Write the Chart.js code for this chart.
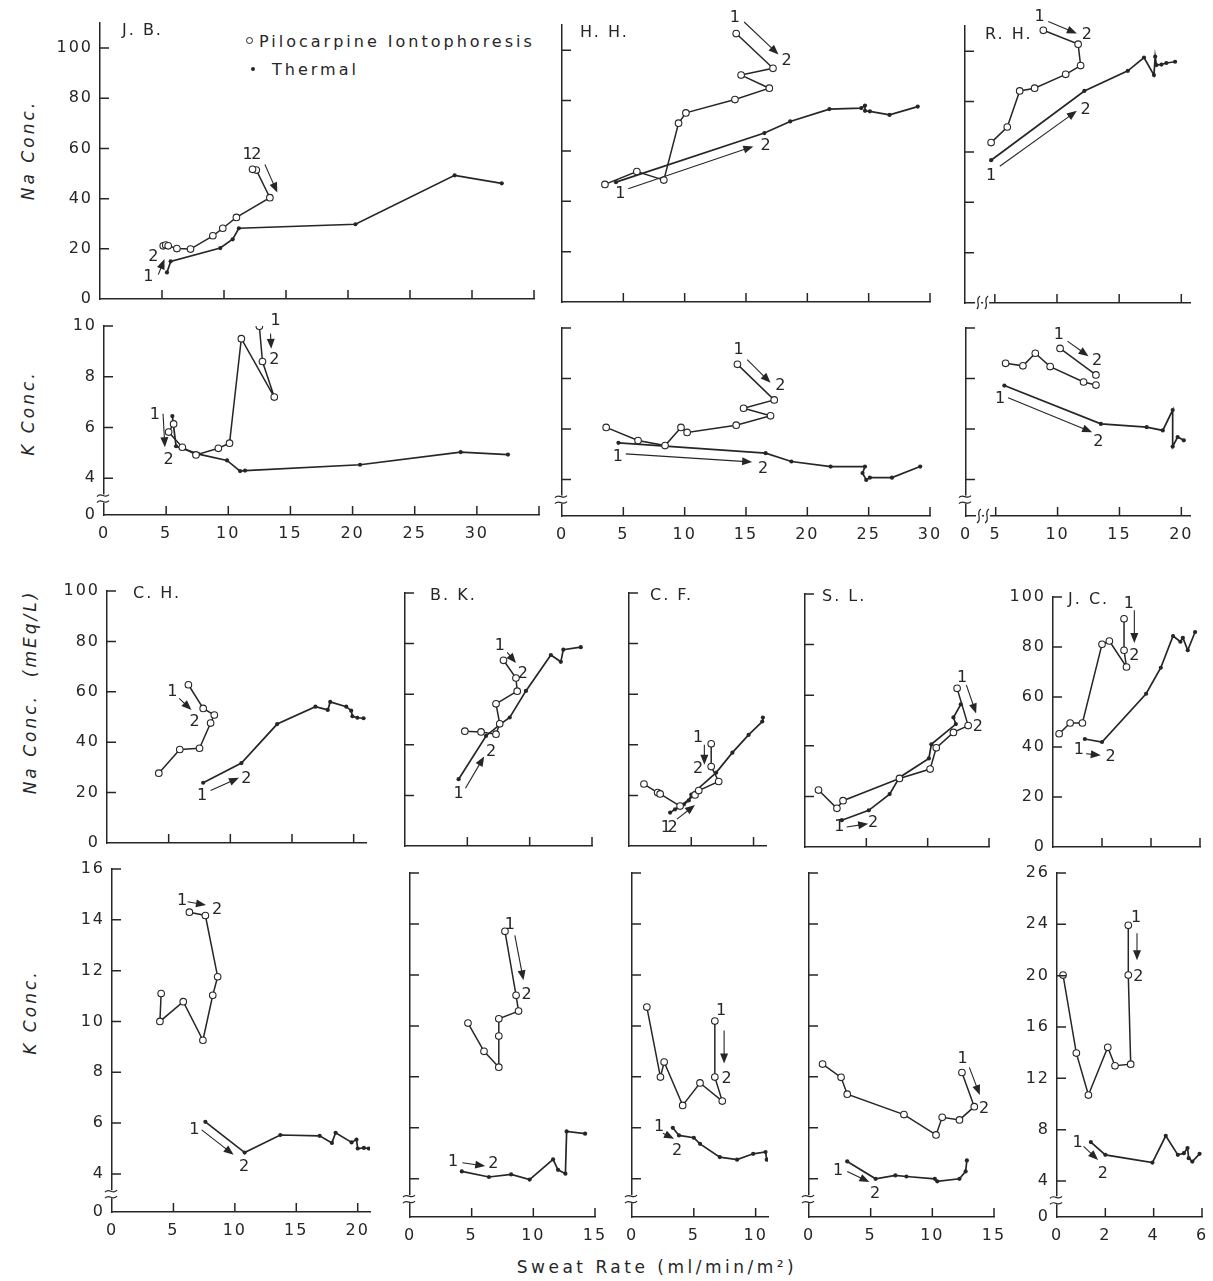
<!DOCTYPE html>
<html>
<head>
<meta charset="utf-8">
<script src="https://cdn.jsdelivr.net/npm/chart.js@4.4.1/dist/chart.umd.min.js"></script>
<style>
  html, body { margin: 0; padding: 0; background: #fff; }
  body { width: 1213px; height: 1281px; position: relative; overflow: hidden;
         font-family: "DejaVu Sans", sans-serif; color: #262626; }
  .panel { position: absolute; }
  .panel canvas { display: block; }
  .ytitle { position: absolute; white-space: nowrap; font-style: italic; font-size: 17px;
            letter-spacing: 3px; transform: translate(-50%, -50%) rotate(-90deg); }
  .legend { position: absolute; font-size: 16px; letter-spacing: 3px; white-space: nowrap; }
  .legend .open { display: inline-block; width: 5px; height: 5px; border: 1.2px solid #262626;
                  border-radius: 50%; margin-right: 6px; vertical-align: 3px; }
  .legend .dot { display: inline-block; width: 4px; height: 4px; background: #262626;
                 border-radius: 50%; margin: 0 17px 0 3px; vertical-align: 4px; }
  .xtitle { position: absolute; font-size: 17px; letter-spacing: 3.5px; white-space: nowrap;
            transform: translate(-50%, -50%); }
</style>
</head>
<body>

<div class="legend" style="left:246px; top:32px;"><span class="open"></span>Pilocarpine Iontophoresis</div>
<div class="legend" style="left:248px; top:60px;"><span class="dot"></span>Thermal</div>

<div class="ytitle" style="left:28px; top:150px;">Na Conc.</div>
<div class="ytitle" style="left:28px; top:413px;">K Conc.</div>
<div class="ytitle" style="left:30px; top:692px;">Na Conc.&nbsp; (mEq/L)</div>
<div class="ytitle" style="left:30px; top:1012px;">K Conc.</div>
<div class="xtitle" style="left:657px; top:1267px;">Sweat Rate (ml/min/m²)</div>

<script>
const INK = '#262626';
const FONT = '"DejaVu Sans", sans-serif';

// ---- axis ticks ----
const topNaYTicks = [0, 20, 40, 60, 80, 100];
const topNaYText = ['0', '20', '40', '60', '80', '100'];
const topKYTicks = [2.55, 4, 6, 8, 10];
const topKYText = ['0', '4', '6', '8', '10'];
const lowNaYTicks = [0, 20, 40, 60, 80, 100];
const lowNaYText = ['0', '20', '40', '60', '80', '100'];
const lowKYTicks = [2.5, 4, 6, 8, 10, 12, 14, 16];
const lowKYText = ['0', '4', '6', '8', '10', '12', '14', '16'];
const jcKYTicks = [1.2, 4, 8, 12, 16, 20, 24, 28];
const jcKYText = ['0', '4', '8', '12', '16', '20', '24', '26'];

const jbXTicks = [0, 5, 10, 15, 20, 25, 30, 35];
const jbXText = ['0', '5', '10', '15', '20', '25', '30', ''];
const hhXTicks = [0, 5, 10, 15, 20, 25, 30];
const hhXText = ['0', '5', '10', '15', '20', '25', '30'];
const rhXTicks = [2.6, 5, 10, 15, 20];
const rhXText = ['0', '5', '10', '15', '20'];
const chXTicks = [0, 5, 10, 15, 20];
const chXText = ['0', '5', '10', '15', '20'];
const bkXTicks = [0, 5, 10, 15];
const bkXText = ['0', '5', '10', '15'];
const cfXTicks = [0, 5, 10];
const cfXText = ['0', '5', '10'];
const slXTicks = [0, 5, 10, 15];
const slXText = ['0', '5', '10', '15'];
const jcXTicks = [0, 2, 4, 6];
const jcXText = ['0', '2', '4', '6'];

// ---- series: [sweat rate, concentration] ----
const jbNaPilo = [[5.1, 21.2], [5.3, 21.5], [5.5, 21.2], [6.2, 20.1], [7.3, 19.9], [9.1, 25.2], [9.9, 28.2], [11.0, 32.5], [13.7, 40.4], [12.6, 51.4], [12.3, 51.7]];
const jbNaTherm = [[5.4, 10.6], [5.7, 15.0], [9.7, 20.3], [10.7, 23.8], [11.2, 28.2], [20.6, 29.8], [28.6, 49.3], [32.4, 46.1]];
const jbKPilo = [[5.6, 6.14], [5.2, 5.82], [6.3, 5.22], [7.4, 4.92], [9.2, 5.18], [10.1, 5.38], [11.05, 9.5], [13.7, 7.2], [12.75, 8.6], [12.5, 9.99]];
const jbKTherm = [[5.5, 6.45], [5.8, 5.26], [7.6, 4.95], [9.9, 4.7], [10.95, 4.28], [11.35, 4.3], [20.6, 4.53], [28.7, 5.03], [32.5, 4.93]];

const hhNaPilo = [[3.5, 46.7], [6.1, 51.8], [8.3, 48.4], [9.5, 71.0], [10.1, 75.1], [14.1, 80.4], [16.9, 84.9], [14.6, 90.1], [17.2, 92.8], [14.2, 106.6]];
const hhNaTherm = [[4.4, 47.6], [16.5, 67.1], [18.6, 71.7], [21.8, 76.6], [24.4, 77.0], [24.7, 78.0], [24.7, 75.9], [25.1, 75.7], [26.7, 74.3], [29.0, 77.6]];
const hhKPilo = [[3.6, 6.06], [6.2, 5.54], [8.4, 5.34], [9.7, 6.06], [10.2, 5.86], [14.2, 6.15], [17.0, 6.52], [14.8, 6.82], [17.3, 7.15], [14.3, 8.56]];
const hhKTherm = [[4.6, 5.45], [16.6, 5.04], [18.7, 4.71], [21.9, 4.51], [24.7, 4.51], [24.5, 4.25], [24.8, 3.98], [25.1, 4.07], [26.9, 4.07], [29.2, 4.51]];

const rhNaPilo = [[4.7, 63.7], [6.0, 69.9], [7.0, 84.2], [8.2, 85.3], [10.7, 90.8], [11.9, 94.3], [11.7, 102.8], [8.9, 108.3]];
const rhNaTherm = [[4.7, 56.7], [12.2, 84.2], [15.7, 92.2], [17.0, 97.5], [17.8, 90.5], [17.9, 97.8], [18.0, 94.5], [18.4, 94.7], [18.8, 95.3], [19.5, 95.8]];
const rhKPiloA = [[5.8, 8.6], [7.2, 8.5], [8.2, 9.0], [9.4, 8.47], [12.1, 7.86], [13.1, 7.74]];
const rhKPiloB = [[10.2, 9.19], [13.1, 8.14]];
const rhKTherm = [[5.7, 7.72], [13.5, 6.2], [17.2, 6.07], [18.5, 5.94], [19.3, 6.75], [19.3, 5.3], [19.7, 5.68], [20.2, 5.55]];

const chNaPilo = [[4.2, 27.7], [5.9, 37.1], [7.5, 37.6], [8.4, 47.6], [8.7, 50.8], [7.8, 53.4], [6.6, 62.8]];
const chNaTherm = [[7.8, 23.9], [10.9, 31.7], [13.8, 47.2], [16.9, 54.1], [17.9, 52.8], [18.1, 56.0], [19.4, 54.1], [19.8, 52.5], [19.9, 50.3], [20.3, 49.7], [20.8, 49.5]];
const chKPilo = [[4.0, 11.1], [3.9, 10.0], [5.8, 10.78], [7.4, 9.26], [8.2, 11.03], [8.6, 11.76], [7.6, 14.17], [6.3, 14.3]];
const chKTherm = [[7.6, 6.05], [10.8, 4.84], [13.7, 5.53], [16.9, 5.5], [17.9, 5.22], [18.2, 5.62], [19.5, 5.24], [19.9, 5.35], [20.0, 5.0], [20.5, 5.02], [20.9, 5.0]];

const bkNaPilo = [[4.8, 45.4], [6.1, 45.1], [7.3, 44.2], [7.6, 48.3], [7.3, 56.2], [9.0, 61.2], [8.9, 66.4], [7.9, 73.4]];
const bkNaTherm = [[4.3, 26.4], [6.5, 43.5], [7.6, 48.0], [8.4, 50.8], [9.7, 61.3], [11.7, 75.5], [12.5, 72.8], [12.7, 77.6], [14.1, 78.6]];
const bkKPilo = [[4.7, 10.11], [6.0, 9.0], [7.2, 8.38], [7.2, 9.6], [7.2, 10.28], [8.8, 10.58], [8.6, 11.2], [7.7, 13.71]];
const bkKTherm = [[4.2, 4.29], [6.4, 4.07], [8.2, 4.17], [9.7, 3.97], [11.6, 4.76], [12.0, 4.35], [12.6, 4.2], [12.7, 5.86], [14.2, 5.77]];

const cfNaPilo = [[1.2, 24.5], [2.3, 21.1], [2.5, 20.6], [4.1, 15.8], [5.3, 20.2], [5.6, 21.9], [7.2, 25.5], [6.6, 31.4], [6.6, 40.4]];
const cfNaTherm = [[3.3, 13.2], [3.7, 14.5], [4.4, 16.4], [4.8, 18.0], [5.0, 20.3], [7.0, 29.0], [8.3, 36.9], [9.6, 43.9], [10.7, 49.2], [10.75, 50.8]];
const cfKPilo = [[1.2, 10.74], [2.3, 7.99], [2.6, 8.58], [4.1, 6.88], [5.5, 7.76], [7.3, 7.05], [6.7, 7.99], [6.7, 10.19]];
const cfKTherm = [[3.3, 6.0], [3.8, 5.7], [5.0, 5.61], [5.5, 5.37], [7.1, 4.85], [8.5, 4.75], [9.8, 4.98], [10.8, 5.05], [10.9, 4.75]];

const slNaPilo = [[1.1, 22.5], [2.6, 15.3], [3.1, 18.3], [7.7, 27.1], [10.2, 30.8], [10.7, 39.2], [12.1, 45.3], [13.3, 48.0], [12.4, 62.7]];
const slNaTherm = [[3.0, 10.6], [5.2, 14.5], [6.9, 20.9], [7.7, 27.5], [10.1, 35.0], [10.3, 40.6], [12.3, 48.6], [12.1, 51.2], [12.7, 56.4]];
const slKPilo = [[1.1, 8.5], [2.6, 7.98], [3.1, 7.32], [7.7, 6.52], [10.3, 5.72], [10.8, 6.41], [12.2, 6.31], [13.4, 6.83], [12.4, 8.17]];
const slKTherm = [[3.1, 4.68], [5.4, 4.0], [7.0, 4.13], [7.9, 4.09], [10.2, 4.0], [10.4, 3.9], [12.2, 4.0], [12.7, 4.29], [12.8, 4.72]];

const jcNaPilo = [[0.25, 45.3], [0.7, 49.6], [1.2, 49.6], [2.0, 81.1], [2.3, 82.4], [3.0, 72.0], [2.9, 78.7], [2.9, 91.3]];
const jcNaTherm = [[1.3, 43.2], [2.0, 42.0], [3.8, 61.3], [4.4, 71.7], [4.9, 84.4], [5.2, 82.1], [5.3, 83.7], [5.5, 78.7], [5.8, 86.0]];
const jcKPilo = [[0.25, 20.05], [0.8, 13.97], [1.3, 10.7], [2.1, 14.42], [2.4, 12.98], [3.05, 13.11], [2.95, 20.05], [2.95, 23.92]];
const jcKTherm = [[1.4, 7.04], [2.0, 6.04], [3.95, 5.44], [4.5, 7.53], [5.0, 6.04], [5.25, 6.17], [5.4, 6.57], [5.45, 5.78], [5.6, 5.52], [5.9, 6.12]];

// ---- "1 -> 2" sequence markers: [x, y, text] and arrows [x1, y1, x2, y2] ----
const jbNaNotes = [[3.9, 8.9, '1'], [4.3, 16.8, '2'], [11.9, 57.4, '1'], [12.6, 57.4, '2']];
const jbNaArrows = [[4.7, 9.7, 5.2, 15.9], [13.3, 53.6, 14.3, 42.4]];
const jbKNotes = [[4.1, 6.5, '1'], [5.2, 4.72, '2'], [13.8, 10.2, '1'], [13.7, 8.67, '2']];
const jbKArrows = [[4.75, 6.54, 4.9, 5.22], [13.4, 9.7, 13.45, 9.1]];
const hhNaNotes = [[4.75, 42.8, '1'], [16.6, 62.2, '2'], [14.1, 113, '1'], [18.3, 95.7, '2']];
const hhNaArrows = [[5.4, 45.0, 15.6, 61.8], [14.85, 111.2, 17.65, 98.3]];
const hhKNotes = [[4.55, 4.88, '1'], [16.4, 4.42, '2'], [14.4, 9.15, '1'], [17.8, 7.7, '2']];
const hhKArrows = [[5.2, 5.01, 15.5, 4.69], [15.1, 8.75, 17.0, 7.83]];
const rhNaNotes = [[8.6, 113.6, '1'], [12.4, 106.3, '2'], [4.7, 50.4, '1'], [12.3, 76.7, '2']];
const rhNaArrows = [[9.3, 111.8, 11.6, 107.0], [5.4, 54.3, 11.6, 76.3]];
const rhKNotes = [[10.1, 9.71, '1'], [13.2, 8.69, '2'], [5.35, 7.18, '1'], [13.3, 5.47, '2']];
const rhKArrows = [[10.8, 9.48, 12.5, 8.88], [6.0, 7.24, 12.8, 5.87]];
const chNaNotes = [[5.3, 59.8, '1'], [7.1, 48.2, '2'], [7.7, 18.9, '1'], [11.3, 25.5, '2']];
const chNaArrows = [[5.85, 57.4, 6.85, 52.8], [8.4, 20.8, 10.7, 25.9]];
const chKNotes = [[5.7, 14.75, '1'], [8.55, 14.41, '2'], [6.7, 5.73, '1'], [10.75, 4.29, '2']];
const chKArrows = [[6.15, 14.71, 7.65, 14.58], [7.3, 5.73, 9.9, 4.75]];
const bkNaNotes = [[7.6, 79.2, '1'], [9.45, 68.1, '2'], [4.3, 20.6, '1'], [6.9, 37.3, '2']];
const bkNaArrows = [[8.2, 76.5, 8.9, 72.3], [4.85, 22.8, 6.35, 35.4]];
const bkKNotes = [[8.1, 13.95, '1'], [9.45, 11.2, '2'], [3.5, 4.65, '1'], [6.75, 4.59, '2']];
const bkKArrows = [[8.5, 13.55, 9.2, 11.79], [4.25, 4.63, 6.1, 4.5]];
const cfNaNotes = [[2.95, 7.0, '1'], [3.5, 7.0, '2'], [5.55, 42.6, '1'], [5.55, 30.3, '2']];
const cfNaArrows = [[3.85, 10.6, 5.3, 16.2], [6.05, 40.0, 6.05, 32.1]];
const cfKNotes = [[2.2, 6.03, '1'], [3.65, 5.11, '2'], [7.2, 10.6, '1'], [7.65, 7.93, '2']];
const cfKArrows = [[2.5, 5.79, 3.4, 5.57], [7.45, 9.82, 7.45, 8.52]];
const slNaNotes = [[12.8, 66.7, '1'], [14.1, 47.6, '2'], [2.8, 7.9, '1'], [5.55, 9.5, '2']];
const slNaArrows = [[13.15, 64.1, 13.95, 52.8], [3.4, 7.9, 5.15, 9.2]];
const slKNotes = [[12.45, 8.69, '1'], [14.2, 6.76, '2'], [2.35, 4.33, '1'], [5.35, 3.41, '2']];
const slKArrows = [[13.0, 8.37, 13.85, 7.29], [3.1, 4.29, 4.9, 3.87]];
const jcNaNotes = [[1.05, 38.7, '1'], [2.35, 36.0, '2'], [3.1, 97.3, '1'], [3.32, 76.3, '2']];
const jcNaArrows = [[1.35, 37.3, 1.95, 36.7], [3.32, 94.7, 3.32, 81.6]];
const jcKNotes = [[0.85, 6.96, '1'], [1.9, 4.6, '2'], [3.27, 24.5, '1'], [3.37, 19.9, '2']];
const jcKArrows = [[1.1, 6.7, 1.7, 5.65], [3.31, 23.3, 3.31, 21.2]];

// plot boxes are [left, top, right, bottom] of the axis frame in page pixels
const panels = [
  { name: 'J. B.', nameAt: [22, 8], box: [100, 23, 534, 299], xr: [0, 35], yr: [0, 110],
    xTicks: jbXTicks, xText: null, yTicks: topNaYTicks, yText: topNaYText,
    pilo: [jbNaPilo], therm: [jbNaTherm], notes: jbNaNotes, arrows: jbNaArrows, padT: 22 },
  { name: 'H. H.', nameAt: [18, 8], box: [562, 25, 930, 302], xr: [0, 30], yr: [0, 110],
    xTicks: hhXTicks, xText: null, yTicks: topNaYTicks, yText: null,
    pilo: [hhNaPilo], therm: [hhNaTherm], notes: hhNaNotes, arrows: hhNaArrows, padT: 22 },
  { name: 'R. H.', nameAt: [20, 9], box: [965, 26, 1190, 303], xr: [2.6, 20.7], yr: [0, 110],
    xTicks: rhXTicks, xText: null, yTicks: topNaYTicks, yText: null, xBreaks: [3.65, 4.3],
    pilo: [rhNaPilo], therm: [rhNaTherm], notes: rhNaNotes, arrows: rhNaArrows, padT: 24 },

  { box: [104, 326, 539, 515], xr: [0, 35], yr: [2.55, 10],
    xTicks: jbXTicks, xText: jbXText, yTicks: topKYTicks, yText: topKYText, yBreak: 3.2,
    pilo: [jbKPilo], therm: [jbKTherm], notes: jbKNotes, arrows: jbKArrows },
  { box: [562, 328, 930, 516], xr: [0, 30], yr: [2.55, 10],
    xTicks: hhXTicks, xText: hhXText, yTicks: topKYTicks, yText: null, yBreak: 3.2,
    pilo: [hhKPilo], therm: [hhKTherm], notes: hhKNotes, arrows: hhKArrows },
  { box: [966, 328, 1190, 516], xr: [2.6, 20.7], yr: [2.55, 10],
    xTicks: rhXTicks, xText: rhXText, yTicks: topKYTicks, yText: null, yBreak: 3.2, xBreaks: [3.65, 4.3],
    pilo: [rhKPiloA, rhKPiloB], therm: [rhKTherm], notes: rhKNotes, arrows: rhKArrows },

  { name: 'C. H.', nameAt: [26, 3], box: [107, 591, 366, 843], xr: [0, 21], yr: [0, 100],
    xTicks: chXTicks, xText: null, yTicks: lowNaYTicks, yText: lowNaYText,
    pilo: [chNaPilo], therm: [chNaTherm], notes: chNaNotes, arrows: chNaArrows },
  { name: 'B. K.', nameAt: [25, 3], box: [405, 593, 592, 846], xr: [0, 15], yr: [0, 100],
    xTicks: bkXTicks, xText: null, yTicks: lowNaYTicks, yText: null,
    pilo: [bkNaPilo], therm: [bkNaTherm], notes: bkNaNotes, arrows: bkNaArrows },
  { name: 'C. F.', nameAt: [21, 3], box: [629, 593, 766, 846], xr: [0, 11], yr: [0, 100],
    xTicks: cfXTicks, xText: null, yTicks: lowNaYTicks, yText: null,
    pilo: [cfNaPilo], therm: [cfNaTherm], notes: cfNaNotes, arrows: cfNaArrows },
  { name: 'S. L.', nameAt: [17, 3], box: [805, 594, 989, 847], xr: [0, 15], yr: [0, 100],
    xTicks: slXTicks, xText: null, yTicks: lowNaYTicks, yText: null,
    pilo: [slNaPilo], therm: [slNaTherm], notes: slNaNotes, arrows: slNaArrows },
  { name: 'J. C.', nameAt: [15, 3], box: [1053, 597, 1200, 847], xr: [0, 6], yr: [0, 100],
    xTicks: jcXTicks, xText: null, yTicks: lowNaYTicks, yText: lowNaYText,
    pilo: [jcNaPilo], therm: [jcNaTherm], notes: jcNaNotes, arrows: jcNaArrows },

  { box: [112, 869, 370, 1212], xr: [0, 21], yr: [2.5, 16],
    xTicks: chXTicks, xText: chXText, yTicks: lowKYTicks, yText: lowKYText, yBreak: 3.2,
    pilo: [chKPilo], therm: [chKTherm], notes: chKNotes, arrows: chKArrows },
  { box: [410, 873, 595, 1217], xr: [0, 15], yr: [2.5, 16],
    xTicks: bkXTicks, xText: bkXText, yTicks: lowKYTicks, yText: null, yBreak: 3.2,
    pilo: [bkKPilo], therm: [bkKTherm], notes: bkKNotes, arrows: bkKArrows },
  { box: [632, 873, 768, 1217], xr: [0, 11], yr: [2.5, 16],
    xTicks: cfXTicks, xText: cfXText, yTicks: lowKYTicks, yText: null, yBreak: 3.2,
    pilo: [cfKPilo], therm: [cfKTherm], notes: cfKNotes, arrows: cfKArrows },
  { box: [809, 873, 994, 1217], xr: [0, 15], yr: [2.5, 16],
    xTicks: slXTicks, xText: slXText, yTicks: lowKYTicks, yText: null, yBreak: 3.2,
    pilo: [slKPilo], therm: [slKTherm], notes: slKNotes, arrows: slKArrows },
  { box: [1057, 873, 1202, 1217], xr: [0, 6], yr: [1.2, 28],
    xTicks: jcXTicks, xText: jcXText, yTicks: jcKYTicks, yText: jcKYText, yBreak: 2.5,
    pilo: [jcKPilo], therm: [jcKTherm], notes: jcKNotes, arrows: jcKArrows }
];

function lineSet(points, open) {
  return {
    data: points.map(p => ({ x: p[0], y: p[1] })),
    showLine: true,
    borderColor: INK,
    borderWidth: open ? 1.5 : 1.7,
    pointRadius: open ? 3.3 : 2.1,
    pointHoverRadius: 0,
    pointBackgroundColor: open ? '#fff' : INK,
    pointBorderColor: INK,
    pointBorderWidth: open ? 1.1 : 0,
    tension: 0
  };
}

function drawArrow(ctx, x1, y1, x2, y2) {
  const ang = Math.atan2(y2 - y1, x2 - x1);
  ctx.beginPath();
  ctx.moveTo(x1, y1);
  ctx.lineTo(x2 - 6 * Math.cos(ang), y2 - 6 * Math.sin(ang));
  ctx.stroke();
  ctx.beginPath();
  ctx.moveTo(x2, y2);
  ctx.lineTo(x2 - 10 * Math.cos(ang) + 4 * Math.sin(ang), y2 - 10 * Math.sin(ang) - 4 * Math.cos(ang));
  ctx.lineTo(x2 - 10 * Math.cos(ang) - 4 * Math.sin(ang), y2 - 10 * Math.sin(ang) + 4 * Math.cos(ang));
  ctx.closePath();
  ctx.fill();
}

function makePanel(cfg) {
  const padL = 56, padR = 22, padT = cfg.padT || 14, padB = cfg.xText ? 34 : 6;
  const [l, t, r, b] = cfg.box;
  const w = r - l + padL + padR, h = b - t + padT + padB;

  const holder = document.createElement('div');
  holder.className = 'panel';
  holder.style.left = (l - padL) + 'px';
  holder.style.top = (t - padT) + 'px';
  const canvas = document.createElement('canvas');
  canvas.width = w;
  canvas.height = h;
  holder.appendChild(canvas);
  document.body.appendChild(holder);

  const datasets = [];
  cfg.pilo.forEach(s => datasets.push(lineSet(s, true)));
  cfg.therm.forEach(s => datasets.push(lineSet(s, false)));

  // inward tick marks, axis breaks, panel name and the 1 -> 2 arrows
  const marks = {
    id: 'marks',
    beforeDraw(chart) { chart.ctx.letterSpacing = '2px'; },
    afterDraw(chart) {
      const { ctx, chartArea: a, scales: { x, y } } = chart;
      ctx.save();
      ctx.letterSpacing = '0px';
      ctx.strokeStyle = INK;
      ctx.fillStyle = INK;
      ctx.lineWidth = 1.5;
      ctx.beginPath();
      cfg.xTicks.forEach(v => {
        if (v === cfg.xr[0]) return;
        const px = x.getPixelForValue(v);
        ctx.moveTo(px, a.bottom);
        ctx.lineTo(px, a.bottom - 9);
      });
      cfg.yTicks.forEach(v => {
        if (v === cfg.yr[0]) return;
        const py = y.getPixelForValue(v);
        ctx.moveTo(a.left, py);
        ctx.lineTo(a.left + 9, py);
      });
      ctx.stroke();

      ctx.lineWidth = 1.2;
      if (cfg.yBreak) {
        const py = y.getPixelForValue(cfg.yBreak);
        ctx.fillStyle = '#fff';
        ctx.fillRect(a.left - 2, py - 4, 4, 8);
        ctx.fillStyle = INK;
        [-3, 3].forEach(d => {
          ctx.beginPath();
          ctx.moveTo(a.left - 7, py + d + 1);
          ctx.bezierCurveTo(a.left - 3, py + d - 4, a.left + 1, py + d + 4, a.left + 5, py + d - 1);
          ctx.stroke();
        });
      }
      (cfg.xBreaks || []).forEach(v => {
        const px = x.getPixelForValue(v);
        ctx.fillStyle = '#fff';
        ctx.fillRect(px - 3, a.bottom - 2, 6, 4);
        ctx.fillStyle = INK;
        ctx.beginPath();
        ctx.moveTo(px - 2, a.bottom + 7);
        ctx.bezierCurveTo(px + 4, a.bottom + 3, px - 4, a.bottom - 3, px + 2, a.bottom - 7);
        ctx.stroke();
      });

      if (cfg.name) {
        ctx.letterSpacing = '2px';
        ctx.font = '16px ' + FONT;
        ctx.textAlign = 'left';
        ctx.textBaseline = 'middle';
        ctx.fillText(cfg.name, a.left + cfg.nameAt[0], a.top + cfg.nameAt[1]);
        ctx.letterSpacing = '0px';
      }

      ctx.font = '16px ' + FONT;
      ctx.textAlign = 'center';
      ctx.textBaseline = 'middle';
      cfg.notes.forEach(([vx, vy, txt]) => {
        ctx.fillText(txt, x.getPixelForValue(vx), y.getPixelForValue(vy));
      });
      ctx.lineWidth = 1.1;
      cfg.arrows.forEach(([x1, y1, x2, y2]) => {
        drawArrow(ctx, x.getPixelForValue(x1), y.getPixelForValue(y1),
                  x.getPixelForValue(x2), y.getPixelForValue(y2));
      });
      ctx.restore();
    }
  };

  new Chart(canvas, {
    type: 'scatter',
    data: { datasets },
    options: {
      responsive: false,
      animation: false,
      events: [],
      layout: { padding: { top: padT, right: padR, left: 0, bottom: 0 } },
      plugins: { legend: { display: false }, tooltip: { enabled: false } },
      scales: {
        x: {
          type: 'linear', min: cfg.xr[0], max: cfg.xr[1],
          grid: { display: false, drawTicks: false },
          border: { display: true, color: INK, width: 1.5 },
          afterBuildTicks: s => { s.ticks = cfg.xTicks.map(v => ({ value: v })); },
          afterFit: s => { s.height = padB; s.paddingLeft = 0; s.paddingRight = 0; },
          ticks: {
            autoSkip: false, maxRotation: 0, padding: 9, color: INK,
            font: { family: FONT, size: 16 },
            callback: (v, i) => cfg.xText ? cfg.xText[i] : ''
          }
        },
        y: {
          type: 'linear', min: cfg.yr[0], max: cfg.yr[1],
          grid: { display: false, drawTicks: false },
          border: { display: true, color: INK, width: 1.5 },
          afterBuildTicks: s => { s.ticks = cfg.yTicks.map(v => ({ value: v })); },
          afterFit: s => { s.width = padL; s.paddingTop = 0; s.paddingBottom = 0; },
          ticks: {
            autoSkip: false, padding: 7, color: INK,
            font: { family: FONT, size: 16 },
            callback: (v, i) => cfg.yText ? cfg.yText[i] : ''
          }
        }
      }
    },
    plugins: [marks]
  });
}

panels.forEach(makePanel);
</script>
</body>
</html>
